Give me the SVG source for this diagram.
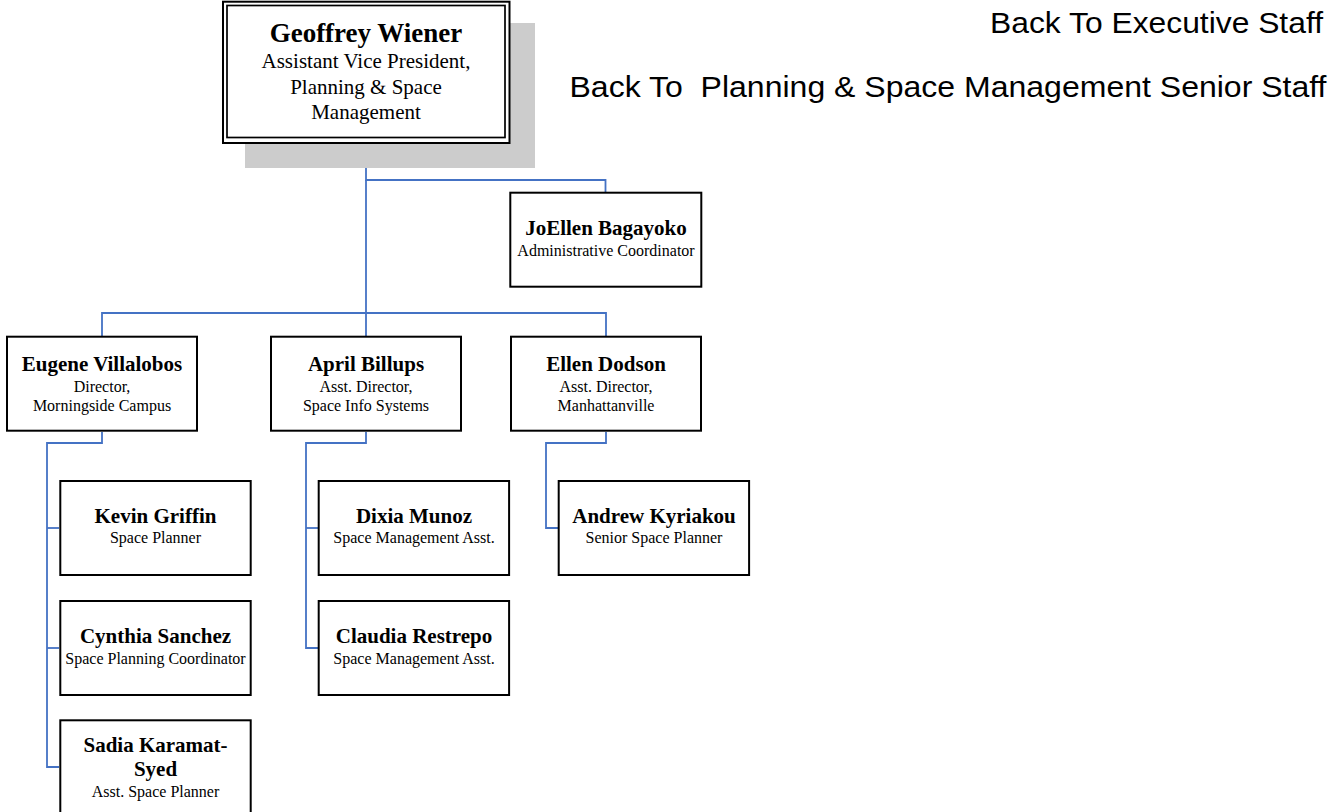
<svg xmlns="http://www.w3.org/2000/svg" width="1332" height="812" viewBox="0 0 1332 812">
<style>
.box{fill:#fff;stroke:#000;stroke-width:2}
.nm{font-family:"Liberation Serif","Times New Roman",serif;font-weight:bold;font-size:21px;text-anchor:middle;fill:#000}
.sb{font-family:"Liberation Serif","Times New Roman",serif;font-size:16px;text-anchor:middle;fill:#000}
.conn{fill:none;stroke:#4472C4;stroke-width:1.8}
.link{font-family:"Liberation Sans",Arial,sans-serif;font-size:29.5px;fill:#000;white-space:pre}
</style>
<rect width="1332" height="812" fill="#fff"/>
<g id="connectors">
<polyline class="conn" points="366,144 366,180 605.5,180 605.5,192"/>
<line class="conn" x1="366" y1="180" x2="366" y2="336"/>
<polyline class="conn" points="102,336 102,313 606,313 606,336"/>
<polyline class="conn" points="102,432 102,443 47,443 47,767 59,767"/>
<line class="conn" x1="47" y1="528" x2="59" y2="528"/>
<line class="conn" x1="47" y1="648" x2="59" y2="648"/>
<polyline class="conn" points="366,432 366,443 306,443 306,648 318,648"/>
<line class="conn" x1="306" y1="528" x2="318" y2="528"/>
<polyline class="conn" points="606,432 606,443 546,443 546,528 558,528"/>
</g>
<g id="geoffrey">
<rect x="245" y="23" width="290" height="145" fill="#ccc"/>
<rect x="223" y="1.7" width="286.5" height="141.3" fill="#fff" stroke="#000" stroke-width="2"/>
<rect x="227" y="5.5" width="278" height="132" fill="none" stroke="#000" stroke-width="1.7"/>
<text class="nm" x="366" y="42" style="font-size:27px">Geoffrey Wiener</text>
<text class="sb" x="366" y="68" style="font-size:21px">Assistant Vice President,</text>
<text class="sb" x="366" y="94" style="font-size:21px">Planning &amp; Space</text>
<text class="sb" x="366" y="119" style="font-size:21px">Management</text>
</g>
<g id="joellen">
<rect class="box" x="510.3" y="192.7" width="191" height="94"/>
<text class="nm" x="606" y="235">JoEllen Bagayoko</text>
<text class="sb" x="606" y="256">Administrative Coordinator</text>
</g>
<g id="eugene">
<rect class="box" x="7" y="336.7" width="190" height="94"/>
<text class="nm" x="102" y="371">Eugene Villalobos</text>
<text class="sb" x="102" y="392">Director,</text>
<text class="sb" x="102" y="411">Morningside Campus</text>
</g>
<g id="april">
<rect class="box" x="271" y="336.7" width="190" height="94"/>
<text class="nm" x="366" y="371">April Billups</text>
<text class="sb" x="366" y="392">Asst. Director,</text>
<text class="sb" x="366" y="411">Space Info Systems</text>
</g>
<g id="ellen">
<rect class="box" x="511" y="336.7" width="190" height="94"/>
<text class="nm" x="606" y="371">Ellen Dodson</text>
<text class="sb" x="606" y="392">Asst. Director,</text>
<text class="sb" x="606" y="411">Manhattanville</text>
</g>
<g id="kevin">
<rect class="box" x="60.3" y="481" width="190.4" height="94"/>
<text class="nm" x="155.5" y="523.3">Kevin Griffin</text>
<text class="sb" x="155.5" y="543.3">Space Planner</text>
</g>
<g id="cynthia">
<rect class="box" x="60.3" y="601" width="190.4" height="94"/>
<text class="nm" x="155.5" y="643.3">Cynthia Sanchez</text>
<text class="sb" x="155.5" y="664">Space Planning Coordinator</text>
</g>
<g id="sadia">
<rect class="box" x="60.3" y="720.3" width="190.4" height="94"/>
<text class="nm" x="155.5" y="752">Sadia Karamat-</text>
<text class="nm" x="155.5" y="776">Syed</text>
<text class="sb" x="155.5" y="797">Asst. Space Planner</text>
</g>
<g id="dixia">
<rect class="box" x="318.7" y="481" width="190.4" height="94"/>
<text class="nm" x="414" y="523.3">Dixia Munoz</text>
<text class="sb" x="414" y="543.3">Space Management Asst.</text>
</g>
<g id="claudia">
<rect class="box" x="318.7" y="601" width="190.4" height="94"/>
<text class="nm" x="414" y="643.3">Claudia Restrepo</text>
<text class="sb" x="414" y="664">Space Management Asst.</text>
</g>
<g id="andrew">
<rect class="box" x="558.7" y="481" width="190.4" height="94"/>
<text class="nm" x="654" y="523.3">Andrew Kyriakou</text>
<text class="sb" x="654" y="543.3">Senior Space Planner</text>
</g>
<g id="links">
<text class="link" x="990" y="33.3" textLength="333" lengthAdjust="spacingAndGlyphs">Back To Executive Staff</text>
<text class="link" x="569.5" y="96.7" textLength="757" lengthAdjust="spacingAndGlyphs" xml:space="preserve">Back To  Planning &amp; Space Management Senior Staff</text>
</g>
</svg>
